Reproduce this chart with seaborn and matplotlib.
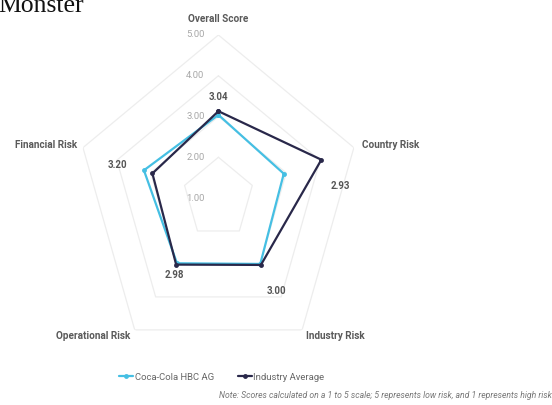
import numpy as np
import pandas as pd
import matplotlib.pyplot as plt
import seaborn as sns

# Risk categories (clockwise from top)
categories = ["Overall Score", "Country Risk", "Industry Risk", "Operational Risk", "Financial Risk"]
coca_cola = [3.04, 2.93, 3.00, 2.98, 3.20]
industry_avg = [3.13, 4.04, 3.03, 3.02, 2.95]
ring_levels = [1.00, 2.00, 3.00, 4.00, 5.00]
series_names = ["Coca-Cola HBC AG", "Industry Average"]
colors = {"Coca-Cola HBC AG": "#45bfe3", "Industry Average": "#29284a"}

sns.set_theme(style="white")
plt.rcParams["font.family"] = ["Roboto", "DejaVu Sans"]

n = len(categories)
angles = np.linspace(0, 2 * np.pi, n, endpoint=False)
closed_angles = np.append(angles, 2 * np.pi)

# long-format table, closing each polygon
rows = []
for name, vals in zip(series_names, [coca_cola, industry_avg]):
    for a, v in zip(closed_angles, vals + vals[:1]):
        rows.append({"angle": a, "value": v, "series": name})
df = pd.DataFrame(rows)

fig = plt.figure(figsize=(5.52, 4.05), dpi=100)
ax = fig.add_axes([0.1377, 0.1086, 0.516, 0.805], projection="polar")
ax.set_theta_zero_location("N")
ax.set_theta_direction(-1)

# pentagon grid rings
for lvl in ring_levels[1:]:
    ax.plot(closed_angles, [lvl] * (n + 1), color="#ededed", lw=0.9, zorder=1)

sns.lineplot(data=df, x="angle", y="value", hue="series", palette=colors,
             marker="o", markersize=3.5, markeredgewidth=0, linewidth=1.6,
             sort=False, estimator=None, ax=ax, zorder=3)

ax.set_ylim(1, 5)
ax.grid(False)
ax.spines["polar"].set_visible(False)
ax.set_xticks([])
ax.set_yticks([])
ax.set_xlabel("")
ax.set_ylabel("")
ax.get_legend().remove()

# ring value labels
for lvl in ring_levels:
    ax.annotate(f"{lvl:.2f}", xy=(0, lvl), xytext=(-23, 0), textcoords="offset pixels",
                ha="center", va="center", fontsize=6.8, color="#a8a8a8", zorder=2)

# category labels
label_pos = [(5.40, "center"), (5.24, "left"), (5.19, "left"), (5.19, "right"), (5.18, "right")]
for a, cat, (r, ha) in zip(angles, categories, label_pos):
    ax.text(a, r, cat, ha=ha, va="center", fontsize=7.2, fontweight="bold",
            color="#5a5a5a", clip_on=False)

# score labels (Coca-Cola HBC AG)
offsets = [(0, 18), (57, -12), (16, -27), (-3, -12), (-26, 5)]
for a, v, off in zip(angles, coca_cola, offsets):
    ax.annotate(f"{v:.2f}", xy=(a, v), xytext=off, textcoords="offset pixels",
                ha="center", va="center", fontsize=7, fontweight="bold",
                color="#555555", annotation_clip=False)

ax.set_aspect("auto")

handles, labels = ax.get_legend_handles_labels()
leg = fig.legend(handles, labels, loc="center", bbox_to_anchor=(222 / 552, 1 - 377 / 405),
                 ncol=2, frameon=False, fontsize=6.8, handlelength=1.4,
                 handletextpad=0.2, columnspacing=2.6)
for t in leg.get_texts():
    t.set_color("#666666")

fig.text(1.0, 1 - 396 / 405,
         "Note: Scores calculated on a 1 to 5 scale; 5 represents low risk, and 1 represents high risk",
         ha="right", va="center", fontsize=6.2, style="italic", color="#777777")

fig.text(-0.004, 1 - 12 / 405, "Monster", ha="left", va="baseline", fontsize=18.5,
         family=["Liberation Serif", "DejaVu Serif"], color="#111111")

fig.savefig("out.png", dpi=100)
